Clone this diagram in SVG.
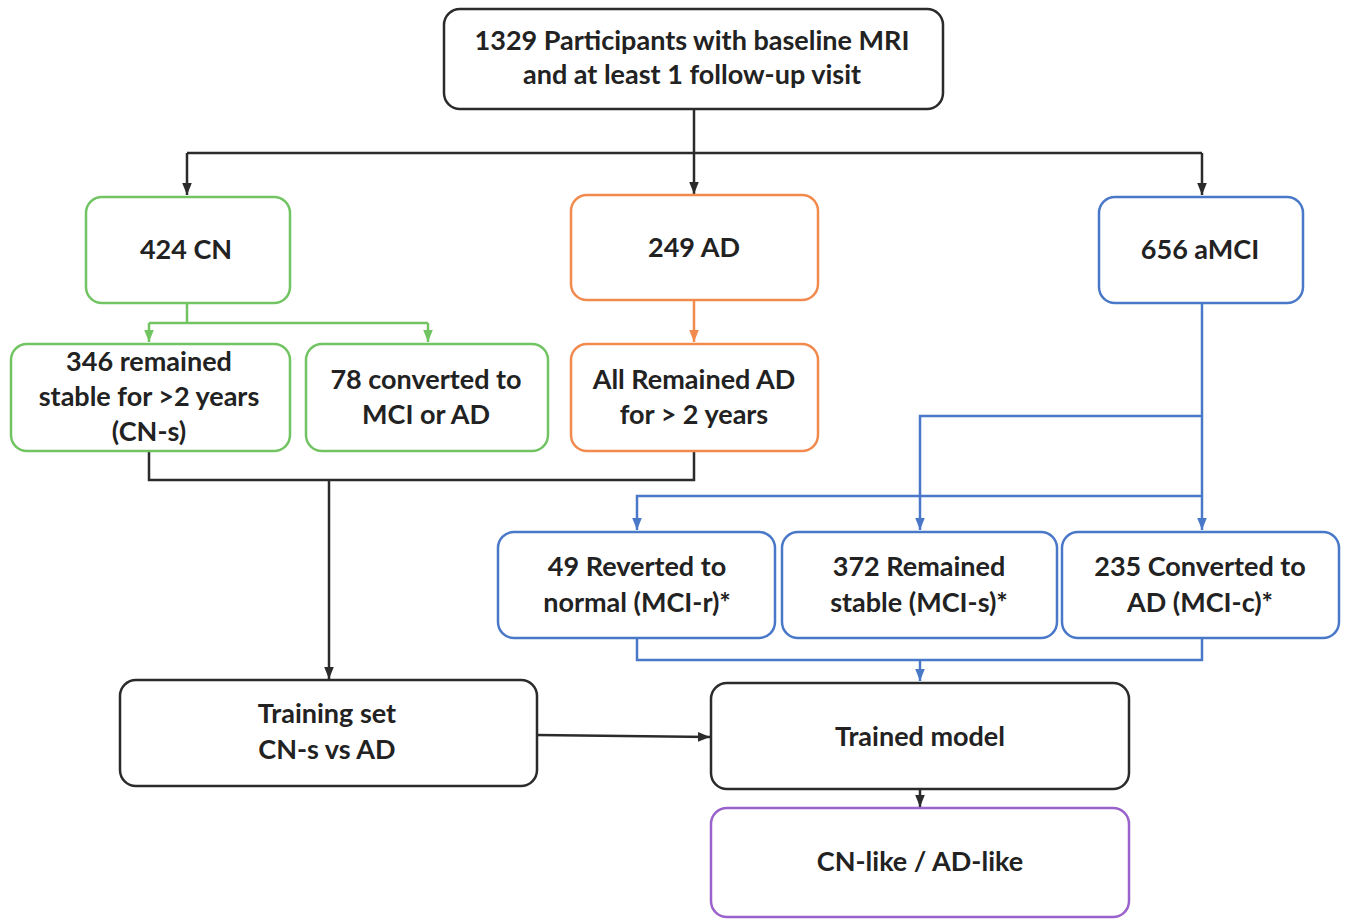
<svg xmlns="http://www.w3.org/2000/svg" width="1347" height="919" viewBox="0 0 1347 919">
<style>
.box{fill:#fff;stroke-width:2.5}
.k{stroke:#2b2b2b}
.g{stroke:#72c463}
.o{stroke:#f28a4e}
.b{stroke:#4a78c8}
.p{stroke:#9a62cc}
text{font-family:Lato,"Open Sans","Liberation Sans",sans-serif;font-size:27px;font-weight:bold;fill:#222;text-anchor:middle}
.c{fill:none;stroke-width:2.5}
</style>
<defs>
<marker id="ak" markerUnits="userSpaceOnUse" markerWidth="12" markerHeight="12" viewBox="0 0 10 10" refX="10" refY="5" orient="auto"><path d="M0,1 L10,5 L0,9 z" fill="#2b2b2b"/></marker>
<marker id="ag" markerUnits="userSpaceOnUse" markerWidth="12" markerHeight="12" viewBox="0 0 10 10" refX="10" refY="5" orient="auto"><path d="M0,1 L10,5 L0,9 z" fill="#72c463"/></marker>
<marker id="ao" markerUnits="userSpaceOnUse" markerWidth="12" markerHeight="12" viewBox="0 0 10 10" refX="10" refY="5" orient="auto"><path d="M0,1 L10,5 L0,9 z" fill="#f28a4e"/></marker>
<marker id="ab" markerUnits="userSpaceOnUse" markerWidth="12" markerHeight="12" viewBox="0 0 10 10" refX="10" refY="5" orient="auto"><path d="M0,1 L10,5 L0,9 z" fill="#4a78c8"/></marker>
</defs>
<g id="connectors">
<path class="c k" d="M694,109 V153"/>
<path class="c k" d="M187,153 H1202"/>
<path class="c k" d="M187,153 V195" marker-end="url(#ak)"/>
<path class="c k" d="M694,153 V194" marker-end="url(#ak)"/>
<path class="c k" d="M1202,153 V195" marker-end="url(#ak)"/>
<path class="c g" d="M187,303 V323 M149,323 H428"/>
<path class="c g" d="M149,323 V342" marker-end="url(#ag)"/>
<path class="c g" d="M428,323 V342" marker-end="url(#ag)"/>
<path class="c o" d="M694,300 V342" marker-end="url(#ao)"/>
<path class="c k" d="M149,451 V480 H694 V451"/>
<path class="c k" d="M329,480 V679" marker-end="url(#ak)"/>
<path class="c k" d="M537,735 L710,737" marker-end="url(#ak)"/>
<path class="c k" d="M920,789 V807" marker-end="url(#ak)"/>
<path class="c b" d="M1202,303 V530" marker-end="url(#ab)"/>
<path class="c b" d="M1202,416 H920 V530" marker-end="url(#ab)"/>
<path class="c b" d="M1202,496 H637 V530" marker-end="url(#ab)"/>
<path class="c b" d="M637,638 V660 H1202 V638"/>
<path class="c b" d="M920,660 V681" marker-end="url(#ab)"/>
</g>
<g id="n-top"><rect class="box k" x="444" y="9" width="499" height="100" rx="16"/><text x="692" y="50">1329 Participants with baseline MRI</text><text x="692" y="84">and at least 1 follow-up visit</text></g>
<g id="n-cn"><rect class="box g" x="86" y="197" width="204" height="106" rx="16"/><text x="186" y="259">424 CN</text></g>
<g id="n-ad"><rect class="box o" x="571" y="195" width="247" height="105" rx="16"/><text x="694" y="257">249 AD</text></g>
<g id="n-amci"><rect class="box b" x="1099" y="197" width="204" height="106" rx="16"/><text x="1200" y="259">656 aMCI</text></g>
<g id="n-cns"><rect class="box g" x="11" y="344" width="279" height="107" rx="16"/><text x="149" y="371">346 remained</text><text x="149" y="406">stable for &gt;2 years</text><text x="149" y="441">(CN-s)</text></g>
<g id="n-cnc"><rect class="box g" x="306" y="344" width="242" height="107" rx="16"/><text x="426" y="389">78 converted to</text><text x="426" y="424">MCI or AD</text></g>
<g id="n-ad2"><rect class="box o" x="571" y="344" width="247" height="107" rx="16"/><text x="694" y="389">All Remained AD</text><text x="694" y="424">for &gt; 2 years</text></g>
<g id="n-mcir"><rect class="box b" x="498" y="532" width="277" height="106" rx="16"/><text x="637" y="576">49 Reverted to</text><text x="637" y="612">normal (MCI-r)*</text></g>
<g id="n-mcis"><rect class="box b" x="782" y="532" width="275" height="106" rx="16"/><text x="919" y="576">372 Remained</text><text x="919" y="612">stable (MCI-s)*</text></g>
<g id="n-mcic"><rect class="box b" x="1062" y="532" width="277" height="106" rx="16"/><text x="1200" y="576">235 Converted to</text><text x="1200" y="612">AD (MCI-c)*</text></g>
<g id="n-train"><rect class="box k" x="120" y="680" width="417" height="106" rx="16"/><text x="327" y="723">Training set</text><text x="327" y="759">CN-s vs AD</text></g>
<g id="n-model"><rect class="box k" x="711" y="683" width="418" height="106" rx="16"/><text x="920" y="746">Trained model</text></g>
<g id="n-out"><rect class="box p" x="711" y="808" width="418" height="109" rx="16"/><text x="920" y="871">CN-like / AD-like</text></g>
</svg>
